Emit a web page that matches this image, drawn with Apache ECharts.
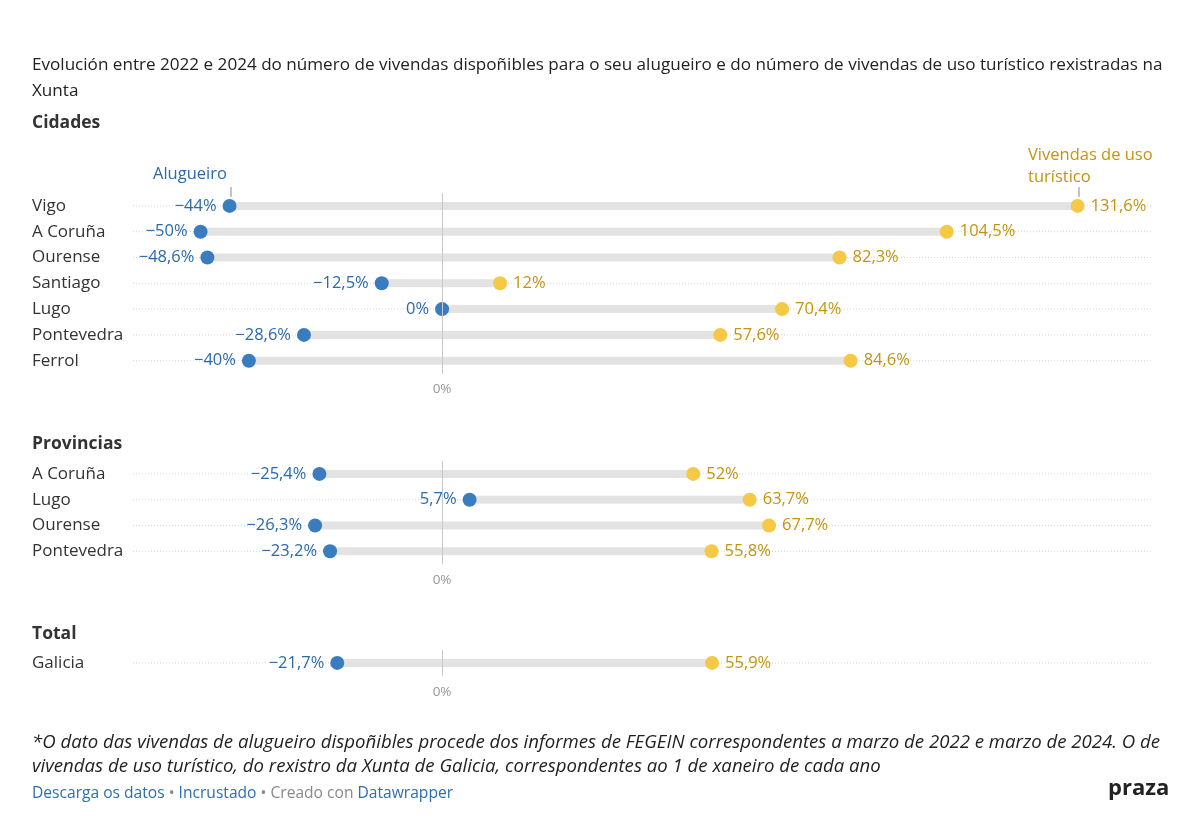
<!DOCTYPE html>
<html><head><meta charset="utf-8">
<script src="https://cdn.jsdelivr.net/npm/echarts@6/dist/echarts.min.js"></script>
<style>body{margin:0;background:#fff}#c{width:1200px;height:834px}</style>
</head><body><div id="c"></div>
<script>
var cidades = ['Vigo', 'A Coruña', 'Ourense', 'Santiago', 'Lugo', 'Pontevedra', 'Ferrol'];
var cidadesAlug = [-44, -50, -48.6, -12.5, 0, -28.6, -40];
var cidadesTur = [131.6, 104.5, 82.3, 12, 70.4, 57.6, 84.6];
var provincias = ['A Coruña', 'Lugo', 'Ourense', 'Pontevedra'];
var provAlug = [-25.4, 5.7, -26.3, -23.2];
var provTur = [52, 63.7, 67.7, 55.8];
var total = ['Galicia'];
var totalAlug = [-21.7];
var totalTur = [55.9];

var BLUE = '#3a7dbf', YEL = '#f5c845', BLUET = '#2a6aab', YELT = '#c3940f';
var XMIN = -64, XMAX = 147;
var font = 'Open Sans';
function fmt(v) { return (v < 0 ? '\u2212' : '') + String(Math.abs(v)).replace('.', ',') + '%'; }

var groups = [
  { cats: cidades, a: cidadesAlug, t: cidadesTur, top: 193 },
  { cats: provincias, a: provAlug, t: provTur, top: 461 },
  { cats: total, a: totalAlug, t: totalTur, top: 650 }
];
var ROW = 25.8;
var grid = [], xAxis = [], yAxis = [], series = [];
groups.forEach(function (g, i) {
  grid.push({ left: 133, right: 48, top: g.top, height: ROW * g.cats.length });
  xAxis.push({ gridIndex: i, type: 'value', min: XMIN, max: XMAX, splitLine: { show: false },
    axisLine: { show: false }, axisTick: { show: false },
    axisLabel: { color: '#999', fontFamily: font, fontSize: 13.5, margin: 9,
      customValues: [0], formatter: function () { return '0%'; } } });
  yAxis.push({ gridIndex: i, type: 'category', data: g.cats, inverse: true,
    axisLine: { show: false }, axisTick: { show: false }, splitLine: { show: false },
    axisLabel: { align: 'left', margin: 101, color: '#333', fontFamily: font, fontSize: 17 } });
  var rows = g.cats.map(function (c, k) { return [g.a[k], g.t[k], k]; });
  series.push({ type: 'custom', xAxisIndex: i, yAxisIndex: i, data: rows, silent: true,
    renderItem: function (params, api) {
      var p0 = api.coord([XMIN, api.value(2)]), p1 = api.coord([XMAX, api.value(2)]);
      var a = api.coord([api.value(0), api.value(2)]), b = api.coord([api.value(1), api.value(2)]);
      return { type: 'group', children: [
        { type: 'line', shape: { x1: p0[0], y1: p0[1], x2: p1[0], y2: p1[1] },
          style: { stroke: '#d5d5d5', lineWidth: 1, lineDash: [1, 2] } },
        { type: 'line', shape: { x1: a[0], y1: a[1], x2: b[0], y2: b[1] },
          style: { stroke: '#e3e3e3', lineWidth: 8 } }
      ] };
    },
    markLine: { silent: true, symbol: 'none', label: { show: false },
      lineStyle: { color: '#c8c8c8', type: 'solid', width: 1 }, data: [{ xAxis: 0 }] },
    z: 1 });
  series.push({ type: 'scatter', xAxisIndex: i, yAxisIndex: i, symbolSize: 14, z: 3,
    itemStyle: { color: BLUE, opacity: 1 },
    label: { show: true, position: 'left', distance: 6, color: BLUET, fontFamily: font, fontSize: 16.5,
      formatter: function (p) { return fmt(p.value[0]); } },
    data: g.a.map(function (v, k) { return [v, k]; }) });
  series.push({ type: 'scatter', xAxisIndex: i, yAxisIndex: i, symbolSize: 14, z: 3,
    itemStyle: { color: YEL, opacity: 1 },
    label: { show: true, position: 'right', distance: 6, color: YELT, fontFamily: font, fontSize: 16.5,
      formatter: function (p) { return fmt(p.value[0]); } },
    data: g.t.map(function (v, k) { return [v, k]; }) });
});

var T = function (x, y, text, st) {
  return { type: 'text', left: x, top: y, style: Object.assign({ text: text, fontFamily: font, fontSize: 16.5, fill: '#333' }, st || {}) };
};
var chart = echarts.init(document.getElementById('c'));
chart.setOption({
  animation: false,
  grid: grid, xAxis: xAxis, yAxis: yAxis, series: series,
  graphic: [
    T(32, 52, 'Evolución entre 2022 e 2024 do número de vivendas dispoñibles para o seu alugueiro e do número de vivendas de uso turístico rexistradas na\nXunta', { fontSize: 17.1, lineHeight: 26, fill: '#222' }),
    T(32, 114, 'Cidades', { fontSize: 17.5, fontWeight: 'bold' }),
    T(32, 435, 'Provincias', { fontSize: 17.5, fontWeight: 'bold' }),
    T(32, 625, 'Total', { fontSize: 17.5, fontWeight: 'bold' }),
    T(153, 166, 'Alugueiro', { fill: BLUET }),
    { type: 'line', shape: { x1: 231, y1: 187, x2: 231, y2: 197 }, style: { stroke: '#888', lineWidth: 1 } },
    T(1028, 144, 'Vivendas de uso\nturístico', { fill: YELT, lineHeight: 22 }),
    { type: 'line', shape: { x1: 1079, y1: 187, x2: 1079, y2: 197 }, style: { stroke: '#888', lineWidth: 1 } },
    T(32, 731, '*O dato das vivendas de alugueiro dispoñibles procede dos informes de FEGEIN correspondentes a marzo de 2022 e marzo de 2024. O de\nvivendas de uso turístico, do rexistro da Xunta de Galicia, correspondentes ao 1 de xaneiro de cada ano', { fontStyle: 'italic', fontSize: 18.6, lineHeight: 24, fill: '#222' }),
    { type: 'text', left: 32, top: 786, style: { fontFamily: font, fontSize: 15.6, rich: {
        b: { fill: '#2e6eae', fontFamily: font, fontSize: 15.6 }, g: { fill: '#888', fontFamily: font, fontSize: 15.6 } },
      text: '{b|Descarga os datos}{g| • }{b|Incrustado}{g| • Creado con }{b|Datawrapper}' } },
    T(1108, 778, 'praza', { fontSize: 22, fontWeight: 'bold', fill: '#222' })
  ]
});
</script></body></html>
